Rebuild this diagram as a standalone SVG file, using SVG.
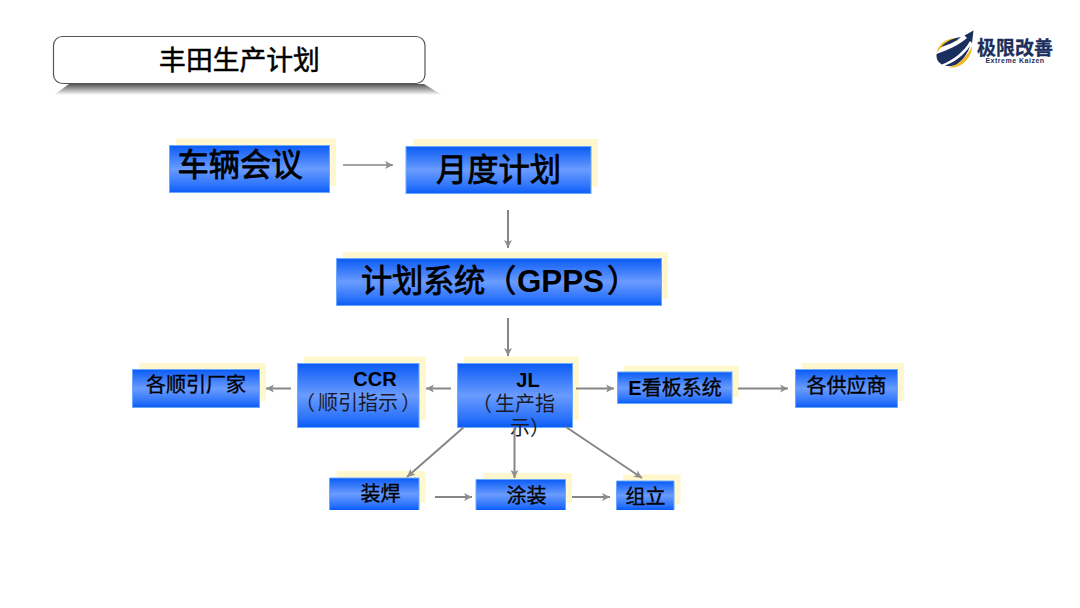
<svg xmlns="http://www.w3.org/2000/svg" width="1080" height="608" viewBox="0 0 1080 608">
<style>
text{font-family:"Liberation Sans","Noto Sans CJK SC",sans-serif;fill:#000;text-anchor:middle}
.blue{fill:url(#bg);stroke:#6aa8ff;stroke-width:1}
.cream{fill:#fff8cf}
.b31{font-size:31.300px;font-weight:400;stroke:#000;stroke-width:.8px}
.b20{font-size:20px;font-weight:700}
.m20{font-size:20px;font-weight:400;stroke:#000;stroke-width:.35px}
.r20{font-size:20px;font-weight:400;text-anchor:start;fill:#1a1a2a}
.st{text-anchor:start}
.con line{stroke:#868686;stroke-width:2;marker-end:url(#ah)}
</style>
<defs>
<linearGradient id="bg" x1="0" y1="0" x2="0" y2="1">
<stop offset="0" stop-color="#0a5cf6"/><stop offset="0.5" stop-color="#6a9bff"/><stop offset="0.85" stop-color="#2c73fb"/><stop offset="1" stop-color="#0a5cf6"/>
</linearGradient>
<linearGradient id="sh" x1="0" y1="0" x2="0" y2="1">
<stop offset="0" stop-color="#555"/><stop offset="1" stop-color="#fff"/>
</linearGradient>
<marker id="ah" markerUnits="userSpaceOnUse" markerWidth="9" markerHeight="10" refX="8" refY="5" orient="auto">
<path d="M0 1 L8 5 L0 9 L2 5 Z" fill="#8e8e8e"/>
</marker>
</defs>
<rect width="1080" height="608" fill="#fff"/>

<g id="title">
<path d="M69 84 H424 L442 95 H54 Z" fill="url(#sh)"/>
<rect x="53.500" y="36.500" width="371.500" height="47" rx="9" fill="#fff" stroke="#555" stroke-width="1.200"/>
<text x="239.500" y="70" font-size="26.800px" stroke="#000" stroke-width=".5">丰田生产计划</text>
</g>

<g id="logo">
<path d="M958 38.500 C948 37 938 44 936.500 53 C941 46 949 42 958 40.500 Z" fill="#f5b81f"/>
<path d="M972 46 C972 58 961 69 949 67.500 C958 65 967 57 972 46 Z" fill="#f5b81f"/>
<path d="M973.500 30.500 L964.500 35.500 L967 38 C958 46 947 50 936.500 54 C936 60 939 63 942 64.500 C953 60 964 52 970 41 L972 43 Z" fill="#1b2f5e"/>
<path d="M961 37 C953 38 945 42 941 47 C948 45 955 42 961 37 Z" fill="#1b2f5e"/>
<path d="M970 46 C964 55 955 62 945 65.500 C950 67 953 66 957 64 C963 60 968 53 970 46 Z" fill="#1b2f5e"/>
<text x="1015" y="55" style="font-size:19px;font-weight:700;fill:#1b2f5e;stroke:#1b2f5e;stroke-width:.3px">极限改善</text>
<text x="1015" y="63" style="font-size:7px;font-weight:700;letter-spacing:.5px;fill:#1b2f5e">Extreme Kaizen</text>
</g>

<g id="n1"><rect class="cream" x="176" y="138.500" width="160" height="47.500"/><rect class="blue" x="169.500" y="145.500" width="160" height="47"/><text class="b31" x="240" y="176">车辆会议</text></g>
<g id="n2"><rect class="cream" x="413" y="139" width="185" height="47.500"/><rect class="blue" x="406" y="146.500" width="185" height="47"/><text class="b31" x="498.500" y="181">月度计划</text></g>
<g id="n3"><rect class="cream" x="343" y="252" width="325" height="47"/><rect class="blue" x="336.500" y="258.500" width="325" height="47"/><text class="b31 st" y="292"><tspan x="361 392 423 454 485">计划系统（</tspan><tspan x="517" font-weight="700" stroke-width="0">GPPS</tspan><tspan x="607">）</tspan></text></g>
<g id="n4"><rect class="cream" x="139" y="363" width="127" height="38"/><rect class="blue" x="132.500" y="369.500" width="127" height="38"/><text class="m20" x="196" y="392">各顺引厂家</text></g>
<g id="n5"><rect class="cream" x="304" y="356.500" width="122" height="63.500"/><rect class="blue" x="297.500" y="363.500" width="121.500" height="64"/><text class="b20" x="375" y="386">CCR</text><text class="r20" x="295 318 338 358 378 401" y="410">（顺引指示）</text></g>
<g id="n6"><rect class="cream" x="464" y="356.500" width="115" height="63.500"/><rect class="blue" x="457.500" y="363.500" width="115" height="64"/><text class="b20" x="528" y="387">JL</text><text class="r20" x="472 495 515 535" y="411">（生产指</text><text class="r20" x="510 530" y="435">示）</text></g>
<g id="n7"><rect class="cream" x="624" y="365.500" width="115" height="31.500"/><rect class="blue" x="617.500" y="372" width="114.500" height="31.500"/><text class="b20" x="675" y="395"><tspan font-weight="700">E</tspan><tspan font-weight="400" stroke="#000" stroke-width=".35">看板系统</tspan></text></g>
<g id="n8"><rect class="cream" x="802" y="363" width="102" height="38"/><rect class="blue" x="795.500" y="369.500" width="102" height="38"/><text class="m20" x="846.500" y="393">各供应商</text></g>
<g id="n9"><rect class="cream" x="336.500" y="471" width="89" height="32"/><path class="blue" d="M329.500 510 V478 H419 V510"/><text class="m20" x="380.500" y="501">装焊</text></g>
<g id="n10"><rect class="cream" x="483" y="473" width="89" height="30"/><path class="blue" d="M476 510 V479.500 H565.500 V510"/><text class="m20" x="526.500" y="503">涂装</text></g>
<g id="n11"><rect class="cream" x="623" y="474.500" width="57.500" height="29.500"/><path class="blue" d="M616.500 510 V481 H674 V510"/><text class="m20" x="645.500" y="504">组立</text></g>

<g id="connectors" class="con">
<line x1="343" y1="165" x2="393" y2="165" style="stroke-width:1.300"/>
<line x1="508" y1="210" x2="508" y2="248"/>
<line x1="508" y1="318" x2="508" y2="356"/>
<line x1="451" y1="388.500" x2="426" y2="388.500"/>
<line x1="291" y1="388.500" x2="266" y2="388.500"/>
<line x1="576" y1="388.500" x2="614" y2="388.500"/>
<line x1="738" y1="388.500" x2="788" y2="388.500"/>
<line x1="464" y1="427" x2="407" y2="477"/>
<line x1="514.500" y1="427" x2="514.500" y2="478"/>
<line x1="566" y1="427" x2="642" y2="478"/>
<line x1="435" y1="497" x2="472" y2="497"/>
<line x1="572" y1="497" x2="610" y2="497"/>
</g>
</svg>
